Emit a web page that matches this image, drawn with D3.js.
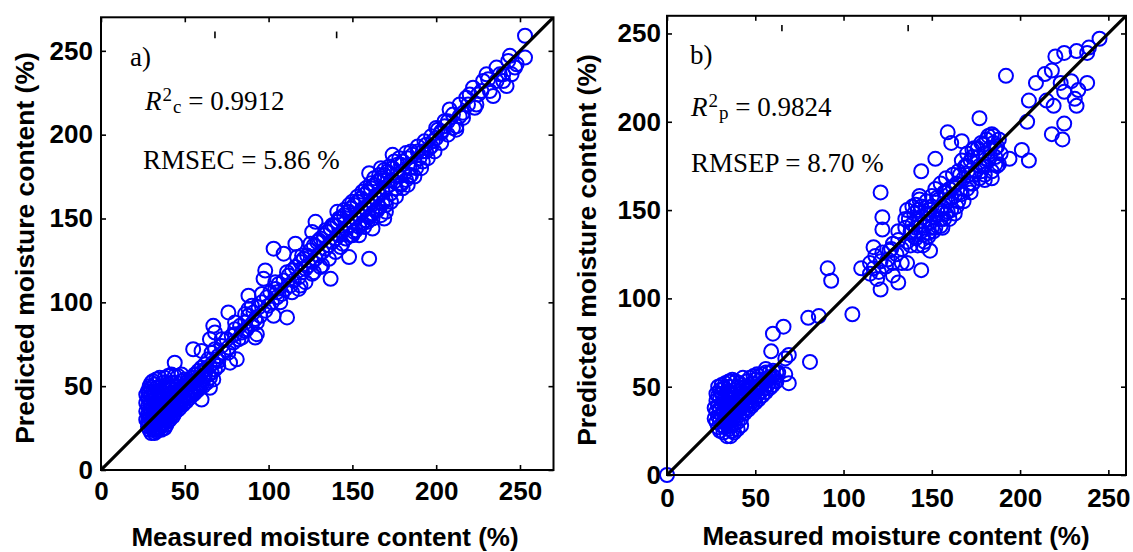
<!DOCTYPE html>
<html>
<head>
<meta charset="utf-8">
<script src="https://cdn.jsdelivr.net/npm/d3@7"></script>
<style>
  body { margin: 0; background: #fff; }
  svg { display: block; }
</style>
</head>
<body>
<svg id="fig" width="1133" height="552"></svg>
<script>
// Tick values shared by both panels
const tickValues = [0, 50, 100, 150, 200, 250];

// Calibration set: [measured, predicted] moisture content (%)
const calibration = [
  [27,30],[27,35],[27,40],[27,45],[28,26],[28,33],[28,38],[28,43],[29,24],[29,28],[29,31],[29,36],[29,41],[29,46],
  [30,22],[30,26],[30,29],[30,34],[30,39],[30,44],[30,49],[31,24],[31,27],[31,32],[31,37],[31,42],[31,47],
  [32,22],[32,25],[32,30],[32,35],[32,40],[32,45],[32,51],[33,23],[33,28],[33,33],[33,38],[33,43],[33,49],
  [34,24],[34,26],[34,31],[34,36],[34,41],[34,47],[35,25],[35,29],[35,34],[35,39],[35,44],[35,50],
  [36,27],[36,32],[36,37],[36,42],[36,47],[37,28],[37,30],[37,35],[37,40],[37,46],[37,52],
  [38,28],[38,33],[38,38],[38,44],[38,49],[39,30],[39,36],[39,42],[39,48],[40,32],[40,34],[40,39],[40,45],[40,51],
  [41,32],[41,37],[41,43],[41,48],[42,35],[42,40],[42,46],[42,52],[43,36],[43,38],[43,44],[43,50],
  [44,36],[44,42],[44,48],[45,38],[45,40],[45,46],[45,52],[46,38],[46,44],[46,50],[47,40],[47,42],[47,48],
  [48,40],[48,46],[48,53],[49,42],[49,44],[49,50],[50,42],[50,47],[50,54],[51,45],[51,52],[52,44],[52,49],
  [53,46],[53,52],[54,45],[54,51],[55,48],[55,55],[56,46],[56,53],[57,50],[57,57],[58,48],[58,55],[59,52],
  [60,51],[60,58],[61,54],[62,56],[63,60],[64,57],[65,62],[66,58],[67,64],[68,60],[69,66],[70,62],
  [28,29],[28,47],[29,50],[30,52],[31,53],[33,54],[35,55],[38,55],[40,56],[42,57],[44,56],[46,56],[48,57],
  [31,30],[32,27],[33,31],[34,29],[35,36],[36,30],[36,24],[38,25],[39,27],[40,29],[41,30],[42,33],[43,32],
  [44,34],[46,36],[47,37],[49,39],[51,41],[53,43],[55,45],[57,47],[59,49],[61,50],[63,52],[65,55],
  [34,33],[36,35],[38,31],[40,37],[42,43],[44,45],[46,47],[48,49],[50,50],[52,53],[54,55],[56,57],[58,59],
  [60,61],[62,63],
  [62,60],[64,66],[66,70],[68,72],[70,68],[72,74],[73,70],[75,78],[76,73],[78,80],[79,76],[80,84],[82,78],
  [83,86],[84,82],[86,88],[87,84],[88,92],[90,87],[91,94],[92,90],[94,97],[95,92],[96,100],[98,95],[99,103],
  [100,98],[101,106],[102,100],[104,108],[105,103],[106,111],[108,105],[109,113],[110,108],[112,116],[113,110],
  [114,119],[115,113],[116,121],[118,115],[119,124],[120,118],[121,126],[122,120],[123,128],[124,122],[125,131],
  [126,124],[127,134],[128,126],[129,136],[130,128],[131,138],[132,130],[133,140],[134,132],[135,142],[136,134],
  [137,144],[138,136],[139,146],[140,138],[141,148],[142,140],[143,150],[144,142],[145,152],[146,144],[147,154],
  [148,146],[149,156],[150,148],[150,140],[151,158],[152,150],[152,143],[153,160],[154,152],[154,145],[155,162],
  [156,154],[156,147],[157,164],[158,156],[158,149],[159,166],[160,158],[160,151],[161,168],[162,160],[162,153],
  [163,170],[164,162],[164,155],[165,172],[166,164],[166,157],[167,174],[168,166],[168,159],[169,176],[170,168],
  [170,161],[171,178],[172,170],[173,165],[174,180],[175,172],[176,168],[177,182],[178,175],[179,170],[180,184],
  [181,177],[182,173],[183,186],[184,180],[185,176],[186,188],[187,183],[188,180],[189,190],[190,186],[192,190],
  [194,194],[196,192],[198,196],[200,198],[203,202],[205,205],
  [120,128],[122,112],[125,135],[127,118],[130,137],[132,122],[134,143],[136,126],[138,146],[140,130],[142,150],
  [144,135],[145,155],[146,138],[148,158],[149,140],[150,160],[151,142],[153,163],[154,140],[156,166],[157,145],
  [158,168],[159,148],[161,171],[162,150],[163,174],[165,155],[166,176],[167,152],[169,179],[170,158],[172,181],
  [173,160],[175,184],[176,163],[178,186],[180,168],[182,189],[183,170],[185,190],[187,175],[189,193],[191,180],
  [193,196],[195,186],[197,199],[199,190],[201,203],[203,195],[205,208],[207,200],[210,212],[212,205],[214,218],
  [216,210],[220,224],[224,218],[228,232],[232,226],[236,240],[240,236],[244,247],[248,242],[104,112],[107,100],
  [111,118],[114,106],[117,127],[119,110],[96,105],[93,88],[88,96],[84,79],[80,88],[76,70],[72,78],[70,65],
  [253,259],[253,246],[243,244],[245,236],[242,229],[230,236],[231,233],[234,223],[227,226],[222,228],[218,222],
  [223,216],[216,213],[214,211],[208,215],[207,208],[210,204],[212,203],[203,201],[200,204],[197,193],[192,184],
  [194,190],[174,188],[179,182],[184,175],[179,171],[169,173],[160,177],[167,180],[170,154],[169,150],[160,126],
  [162,144],[148,154],[141,154],[128,148],[126,142],[143,133],[148,127],[137,114],[126,117],[131,121],[118,108],
  [116,135],[103,132],[109,129],[98,119],[97,114],[105,106],[103,92],[111,91],[93,81],[92,79],[88,104],[90,98],
  [86,93],[76,94],[86,83],[80,81],[67,86],[68,82],[65,78],[60,71],[55,72],[77,64],[81,66],[44,64],[67,54],
  [60,42],[65,49],[238,236],[247,240],[236,232],[225,224],[219,218],[240,232]
];

// Prediction set: [measured, predicted] moisture content (%)
const prediction = [
  [0,0],
  [28,30],[28,36],[28,42],[29,27],[29,33],[29,39],[29,45],[30,25],[30,31],[30,37],[30,43],[30,48],
  [31,28],[31,34],[31,40],[31,46],[32,24],[32,30],[32,36],[32,42],[32,49],[33,27],[33,33],[33,39],[33,45],
  [34,22],[34,29],[34,35],[34,41],[34,47],[35,26],[35,32],[35,38],[35,44],[35,50],[36,28],[36,34],[36,40],[36,46],
  [37,25],[37,31],[37,37],[37,43],[38,29],[38,35],[38,41],[38,48],[39,32],[39,38],[39,44],[40,30],[40,36],[40,42],[40,50],
  [41,34],[41,40],[41,46],[42,32],[42,38],[42,44],[43,36],[43,42],[43,49],[44,40],[44,46],[45,38],[45,44],
  [46,42],[46,50],[47,40],[47,46],[48,44],[48,52],[49,42],[50,47],[50,54],[51,45],[52,49],[53,47],[53,54],
  [54,51],[55,49],[56,53],[57,51],[58,55],[59,50],[60,56],[62,58],
  [27,32],[27,38],[28,46],[29,50],[31,51],[33,52],[35,53],[37,54],[39,53],[41,52],[43,55],[45,53],[47,55],
  [49,56],[51,57],[52,56],[54,57],[56,58],[58,58],[60,59],[61,55],[46,37],[48,39],[50,41],[52,43],[54,45],
  [56,47],[58,49],[60,51],[62,53],[44,35],[42,28],[40,26],[38,24],[36,22],[33,30],[35,35],[37,40],[39,35],
  [41,44],[43,45],[45,48],[47,49],[49,48],[51,50],[53,51],[55,53],[57,54],[59,55],[36,31],[38,33],[40,38],[42,40],
  [115,120],[118,124],[120,115],[122,126],[124,118],[125,122],[127,128],[128,120],[130,125],[131,133],[133,128],
  [135,140],[136,132],[137,145],[138,138],[139,142],[140,135],[140,148],[141,140],[142,150],[142,130],[143,144],
  [144,138],[144,152],[145,146],[146,132],[146,141],[147,155],[148,148],[148,135],[149,143],[150,152],[150,158],
  [151,146],[152,140],[152,162],[153,150],[154,156],[155,145],[155,165],[156,152],[157,160],[158,148],[158,168],
  [159,155],[160,162],[161,150],[162,170],[163,158],[164,165],[165,172],[166,160],[167,178],[168,168],[169,175],
  [170,162],[170,182],[171,170],[172,178],[173,165],[174,185],[175,172],[176,180],[177,168],[178,188],[179,175],
  [180,182],[180,170],[181,190],[182,178],[183,185],[184,172],[185,192],[186,180],[187,186],[188,176],
  [136,150],[138,130],[139,152],[141,134],[143,158],[145,136],[147,148],[149,150],[151,138],[153,157],[155,150],
  [156,140],[158,160],[160,145],[162,163],[164,152],[166,170],[168,155],[170,175],[171,165],[173,180],[174,170],
  [176,185],[177,175],[179,187],[180,176],[182,192],[183,180],[185,188],[186,176],[188,190],[189,182],[184,168],
  [178,172],[172,160],[165,155],[163,148],[157,145],[150,140],[145,130],
  [245,247],[239,242],[238,239],[232,240],[231,213],[232,209],[238,222],[233,218],[229,223],[225,217],[223,222],
  [225,199],[224,190],[218,193],[219,209],[215,212],[220,237],[225,239],[218,229],[214,227],[209,222],[205,212],
  [204,200],[192,226],[201,184],[205,178],[194,179],[177,202],[159,194],[152,179],[144,172],[161,188],[167,189],
  [173,184],[184,193],[186,185],[187,175],[180,167],[173,165],[167,159],[161,157],[159,149],[155,141],[148,137],
  [149,127],[138,137],[135,145],[141,153],[143,156],[121,160],[122,146],[122,139],[131,138],[128,131],[117,129],
  [126,127],[133,120],[136,120],[144,116],[121,121],[117,117],[110,117],[115,114],[119,111],[121,105],[131,109],
  [128,113],[91,117],[93,110],[105,91],[86,90],[80,89],[66,84],[60,80],[59,70],[67,66],[69,68],[81,64],[63,58],
  [67,57],[69,52],[56,60],[36,53]
];

// Panel statistics
const panelTags = ["a)", "b)"];
const r2Subscripts = ["c", "p"];
const r2Values = ["0.9912", "0.9824"];
const rmseNames = ["RMSEC", "RMSEP"];
const rmseValues = ["5.86", "8.70"];
const axisMax = [270, 260];
// Short marks sitting just under the top frame, in data units [x, yTop, yBottom]
const topMarks = [
  [[68, 261.5, 257.5], [140.6, 261.5, 257.5]],
  [[65.1, 254.8, 251.3], [136.6, 254.8, 251.3]]
];

const panels = [
  { data: calibration, left: 101, right: 553.5, top: 17.3, bottom: 470,
    xPad: 12, yPad: 8, xTitle: [325, 546], yTitle: [34, 248],
    tag: [130, 66], r2: [145, 110], rmse: [143, 169] },
  { data: prediction, left: 667, right: 1126, top: 15.8, bottom: 475,
    xPad: 14, yPad: 6, xTitle: [896, 545], yTitle: [596, 250],
    tag: [690, 64], r2: [691, 116], rmse: [691, 172] }
];

const svg = d3.select("#fig");
const sansBold = "'Liberation Sans', Arial, sans-serif";
const serif = "'Liberation Serif', 'Times New Roman', serif";

panels.forEach((p, i) => {
  const x = d3.scaleLinear().domain([0, axisMax[i]]).range([p.left, p.right]);
  const y = d3.scaleLinear().domain([0, axisMax[i]]).range([p.bottom, p.top]);
  const g = svg.append("g");

  // Points
  g.append("g").selectAll("circle").data(p.data).join("circle")
    .attr("cx", d => x(d[0])).attr("cy", d => y(d[1])).attr("r", 7)
    .attr("fill", "none").attr("stroke", "#0000ff").attr("stroke-width", 2);

  // 1:1 line
  const clipId = "clip" + i;
  svg.append("clipPath").attr("id", clipId).append("rect")
    .attr("x", p.left).attr("y", p.top).attr("width", p.right - p.left).attr("height", p.bottom - p.top);
  g.append("line").attr("clip-path", `url(#${clipId})`)
    .attr("x1", x(0)).attr("y1", y(0)).attr("x2", x(axisMax[i])).attr("y2", y(axisMax[i]))
    .attr("stroke", "#000").attr("stroke-width", 3.2);

  // Axes: labelled bottom/left, tick-only top/right
  const styleAxis = sel => {
    sel.select(".domain").remove();
    sel.selectAll(".tick line").attr("stroke", "#000").attr("stroke-width", 1.6);
    sel.selectAll(".tick text").attr("fill", "#000")
      .style("font-family", sansBold).style("font-weight", "bold").style("font-size", "26px");
  };
  g.append("g").attr("transform", `translate(0,${p.bottom})`)
    .call(d3.axisBottom(x).tickValues(tickValues).tickSizeInner(-5).tickSizeOuter(0).tickPadding(p.xPad))
    .call(styleAxis);
  g.append("g").attr("transform", `translate(0,${p.top})`)
    .call(d3.axisTop(x).tickValues(tickValues).tickSizeInner(-5).tickSizeOuter(0).tickFormat(""))
    .call(styleAxis);
  g.append("g").attr("transform", `translate(${p.left},0)`)
    .call(d3.axisLeft(y).tickValues(tickValues).tickSizeInner(-5).tickSizeOuter(0).tickPadding(p.yPad))
    .call(styleAxis);
  g.append("g").attr("transform", `translate(${p.right},0)`)
    .call(d3.axisRight(y).tickValues(tickValues).tickSizeInner(-5).tickSizeOuter(0).tickFormat(""))
    .call(styleAxis);

  // Marks under the top frame
  g.append("g").selectAll("line").data(topMarks[i]).join("line")
    .attr("x1", d => x(d[0])).attr("x2", d => x(d[0]))
    .attr("y1", d => y(d[1])).attr("y2", d => y(d[2]))
    .attr("stroke", "#000").attr("stroke-width", 1.6);

  // Frame
  g.append("rect").attr("x", p.left).attr("y", p.top)
    .attr("width", p.right - p.left).attr("height", p.bottom - p.top)
    .attr("fill", "none").attr("stroke", "#000").attr("stroke-width", 2);

  // Axis titles
  g.append("text").attr("x", p.xTitle[0]).attr("y", p.xTitle[1])
    .attr("text-anchor", "middle")
    .style("font-family", sansBold).style("font-weight", "bold").style("font-size", "26px")
    .text("Measured moisture content (%)");
  g.append("text").attr("transform", `translate(${p.yTitle[0]},${p.yTitle[1]}) rotate(-90)`)
    .attr("text-anchor", "middle")
    .style("font-family", sansBold).style("font-weight", "bold").style("font-size", "26.5px")
    .text("Predicted moisture content (%)");

  // Annotations
  g.append("text").attr("x", p.tag[0]).attr("y", p.tag[1])
    .style("font-family", serif).style("font-size", "27px").text(panelTags[i]);

  const r2 = g.append("text").attr("x", p.r2[0]).attr("y", p.r2[1])
    .style("font-family", serif).style("font-size", "27px");
  r2.append("tspan").style("font-style", "italic").text("R");
  r2.append("tspan").attr("dx", 1).attr("dy", -9).style("font-size", "19px").text("2");
  r2.append("tspan").attr("dx", 1).attr("dy", 12).style("font-size", "19px").text(r2Subscripts[i]);
  r2.append("tspan").attr("dy", -3).text(" = " + r2Values[i]);

  g.append("text").attr("x", p.rmse[0]).attr("y", p.rmse[1])
    .style("font-family", serif).style("font-size", "27px")
    .text(`${rmseNames[i]} = ${rmseValues[i]} %`);
});
</script>
</body>
</html>
